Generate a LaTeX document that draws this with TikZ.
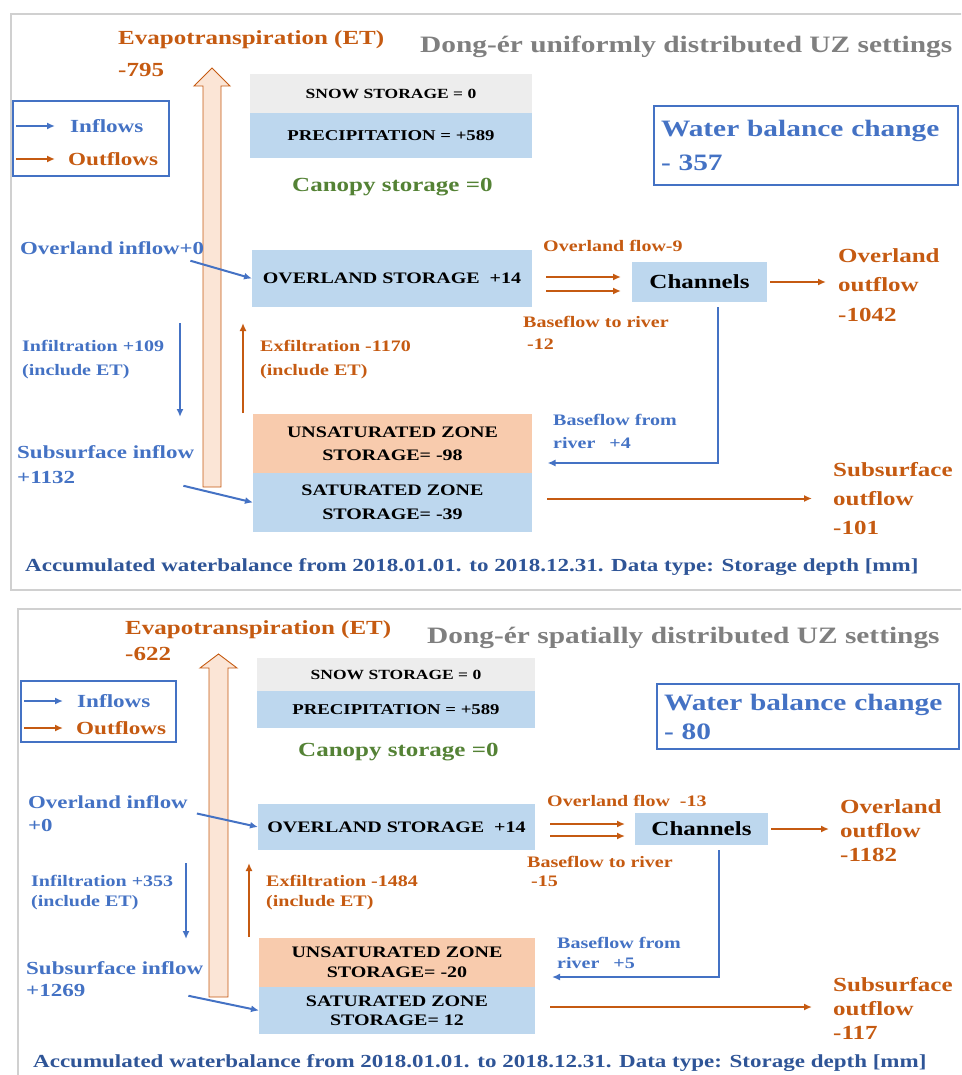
\documentclass[tikz,border=0pt]{standalone}
\usepackage{fontspec}
\setmainfont{Liberation Serif}[FakeStretch=1.25]
\usetikzlibrary{arrows.meta,positioning}

\definecolor{inblue}{HTML}{4472C4}
\definecolor{outorange}{HTML}{C55A11}
\definecolor{footblue}{HTML}{2F5597}
\definecolor{canopygreen}{HTML}{548235}
\definecolor{titlegray}{HTML}{7F7F7F}
\definecolor{boxblue}{HTML}{BDD7EE}
\definecolor{uzpeach}{HTML}{F8CBAD}
\definecolor{snowgray}{HTML}{EDEDED}
\definecolor{etfill}{HTML}{FBE5D6}
\definecolor{framegray}{HTML}{D0D0D0}

\newcommand\wbf[2]{\bfseries\fontsize{#1}{#2}\selectfont}

\tikzset{
  lbl/.style 2 args={anchor=west,inner sep=0pt,align=left,font=\wbf{#1}{#2}},
  zone/.style={inner sep=0pt,outer sep=0pt,align=center},
  legbox/.style={draw=inblue,line width=1.8pt,inner sep=0pt},
  wbbox/.style={draw=inblue,line width=1.8pt,inner xsep=7pt,align=left,text=inblue},
  frame/.style={draw=framegray,line width=2.5pt},
  etarrow/.style={fill=etfill,draw=outorange,line width=0.9pt,line join=miter},
  inarr/.style={draw=inblue,line width=2pt,-{Latex[length=8pt,width=7pt]}},
  outarr/.style={draw=outorange,line width=2pt,-{Latex[length=8pt,width=7pt]}}
}

\begin{document}
\begin{tikzpicture}[x=1pt,y=-1pt]
  \useasboundingbox (0,0) rectangle (961,1075);
  \clip (0,0) rectangle (961,1075);

  % ---------- uniformly distributed UZ ----------
  \draw[frame] (11,14) rectangle (975,590);
  \draw[etarrow] (203,487) -- (203,86) -- (194,86) -- (212,68) -- (230,86) -- (221,86) -- (221,487) -- cycle;

  \node[lbl={20}{32}, text=outorange] (et1) at (118,54) {Evapotranspiration (ET)\\-795};
  \node[lbl={23.5}{28}, text=titlegray] (ttl1) at (420,47) {Dong-ér uniformly distributed UZ settings};

  \node[legbox, minimum width=156pt, minimum height=75pt] (leg1) at (91,138.5) {};
  \node[lbl={18.5}{22}, text=inblue] (lin1) at (70,126) {Inflows};
  \node[lbl={18.5}{22}, text=outorange] (lout1) at (68,159) {Outflows};

  \node[zone, fill=snowgray, minimum width=282pt, minimum height=39pt, font=\wbf{14}{20}] (snow1) at (391,93.5) {SNOW STORAGE = 0};
  \node[zone, fill=boxblue, minimum width=282pt, minimum height=45pt, font=\wbf{15}{20}, below=0pt of snow1] (prec1) {PRECIPITATION = +589};
  \node[lbl={20}{24}, text=canopygreen] (can1) at (292,187) {Canopy storage =0};
  \node[wbbox, text width=290pt, minimum height=79pt, font=\wbf{23.5}{34}] (wb1) at (806,145.5) {Water balance change\\- 357};

  \node[lbl={18.3}{22}, text=inblue] (ovin1) at (20,248) {Overland inflow+0};
  \node[zone, fill=boxblue, minimum width=280pt, minimum height=57pt, font=\wbf{16}{20}] (ovl1) at (392,278.5) {OVERLAND STORAGE\ \ +14};
  \node[lbl={16}{20}, text=outorange] (ovf1) at (543,246) {Overland flow-9};
  \node[zone, fill=boxblue, minimum width=135pt, minimum height=40pt, font=\wbf{20}{24}] (chan1) at (699.5,282) {Channels};
  \node[lbl={20}{29.5}, text=outorange] (oout1) at (838,285) {Overland\\outflow\\-1042};
  \node[lbl={16}{22}, text=outorange] (btr1) at (523,333) {Baseflow to river\\\hspace{4pt}-12};
  \node[lbl={16}{23}, text=inblue] (bfr1) at (553,431.5) {Baseflow from\\river\hspace{14pt}+4};

  \node[zone, fill=uzpeach, minimum width=279pt, minimum height=59pt, font=\wbf{16}{23}] (uz1) at (392.5,443.5) {UNSATURATED ZONE\\STORAGE= -98};
  \node[zone, fill=boxblue, minimum width=279pt, minimum height=59pt, font=\wbf{16}{24}, below=0pt of uz1] (sz1) {SATURATED ZONE\\STORAGE= -39};
  \node[lbl={20}{29}, text=outorange] (sout1) at (833,499) {Subsurface\\outflow\\-101};

  \node[lbl={16}{24}, text=inblue] (inf1) at (22,360) {Infiltration +109\\(include ET)};
  \node[lbl={16}{24}, text=outorange] (exf1) at (260,360) {Exfiltration -1170\\(include ET)};
  \node[lbl={18.4}{25}, text=inblue] (sin1) at (17,464.5) {Subsurface inflow\\+1132};
  \node[lbl={18.4}{22}, text=footblue] (ft1) at (25,567) {Accumulated waterbalance from 2018.01.01. to 2018.12.31. Data type: Storage depth [mm]};

  \coordinate (ia1) at (180,323);
  \coordinate (ib1) at (180,417);
  \coordinate (ea1) at (243,413);
  \coordinate (eb1) at (243,323);

  \draw[inarr] ([xshift=4pt]leg1.west |- lin1.west) -- ([xshift=-15pt]lin1.west);
  \draw[outarr] ([xshift=4pt]leg1.west |- lout1.west) -- ([xshift=-13pt]lout1.west);
  \draw[inarr] (ia1) -- (ib1);
  \draw[outarr] (ea1) -- (eb1);
  \draw[inarr] ([shift={(-14,6)}]ovin1.south east) -- (ovl1.west);
  \draw[outarr] ([shift={(14,-1.5)}]ovl1.east) -- ([shift={(-11,-5)}]chan1.west);
  \draw[outarr] ([shift={(14,12.5)}]ovl1.east) -- ([shift={(-11,9)}]chan1.west);
  \draw[outarr] ([xshift=3pt]chan1.east) -- ([xshift=-12pt]chan1.east -| oout1.west);
  \draw[inarr] ([shift={(18.5,5)}]chan1.south) |- ([shift={(15.5,19.5)}]uz1.east);
  \draw[outarr] ([shift={(15,-4)}]sz1.east) -- ([shift={(-21,-4)}]sz1.east -| sout1.west);
  \draw[inarr] ([shift={(-11,2)}]sin1.south east) -- (sz1.west);

  % ---------- spatially distributed UZ ----------
  \draw[frame] (18,609) rectangle (975,1090);
  \draw[etarrow] (209,997) -- (209,668) -- (200,668) -- (218.5,654) -- (237,668) -- (228,668) -- (228,997) -- cycle;

  \node[lbl={20}{26}, text=outorange] (et2) at (125,641) {Evapotranspiration (ET)\\-622};
  \node[lbl={23.5}{28}, text=titlegray] (ttl2) at (427,638) {Dong-ér spatially distributed UZ settings};

  \node[legbox, minimum width=155pt, minimum height=61pt] (leg2) at (98.5,711.5) {};
  \node[lbl={18.5}{22}, text=inblue] (lin2) at (77,701) {Inflows};
  \node[lbl={18.5}{22}, text=outorange] (lout2) at (76,728) {Outflows};

  \node[zone, fill=snowgray, minimum width=278pt, minimum height=33pt, font=\wbf{14}{20}] (snow2) at (396,674.5) {SNOW STORAGE = 0};
  \node[zone, fill=boxblue, minimum width=278pt, minimum height=37pt, font=\wbf{15}{20}, below=0pt of snow2] (prec2) {PRECIPITATION = +589};
  \node[lbl={20}{24}, text=canopygreen] (can2) at (298,752) {Canopy storage =0};
  \node[wbbox, text width=288pt, minimum height=65pt, font=\wbf{23.5}{29}] (wb2) at (808,716.5) {Water balance change\\- 80};

  \node[lbl={18.3}{23}, text=inblue] (ovin2) at (28,813.5) {Overland inflow\\+0};
  \node[zone, fill=boxblue, minimum width=277pt, minimum height=46pt, font=\wbf{16}{20}] (ovl2) at (396.5,827) {OVERLAND STORAGE\ \ +14};
  \node[lbl={16}{20}, text=outorange] (ovf2) at (547,801) {Overland flow\ \ -13};
  \node[zone, fill=boxblue, minimum width=133pt, minimum height=32pt, font=\wbf{20}{24}] (chan2) at (701.5,829) {Channels};
  \node[lbl={20}{24}, text=outorange] (oout2) at (840,831) {Overland\\outflow\\-1182};
  \node[lbl={16}{19.5}, text=outorange] (btr2) at (527,871.5) {Baseflow to river\\\hspace{4pt}-15};
  \node[lbl={16}{20}, text=inblue] (bfr2) at (557,953) {Baseflow from\\river\hspace{14pt}+5};

  \node[zone, fill=uzpeach, minimum width=276pt, minimum height=49pt, font=\wbf{16}{20}] (uz2) at (397,962.5) {UNSATURATED ZONE\\STORAGE= -20};
  \node[zone, fill=boxblue, minimum width=276pt, minimum height=47pt, font=\wbf{16}{19}, below=0pt of uz2] (sz2) {SATURATED ZONE\\STORAGE= 12};
  \node[lbl={20}{24}, text=outorange] (sout2) at (833,1008) {Subsurface\\outflow\\-117};

  \node[lbl={16}{20}, text=inblue] (inf2) at (31,893) {Infiltration +353\\(include ET)};
  \node[lbl={16}{20}, text=outorange] (exf2) at (266,893) {Exfiltration -1484\\(include ET)};
  \node[lbl={18.4}{22}, text=inblue] (sin2) at (26,979) {Subsurface inflow\\+1269};
  \node[lbl={18.4}{22}, text=footblue] (ft2) at (33,1063) {Accumulated waterbalance from 2018.01.01. to 2018.12.31. Data type: Storage depth [mm]};

  \coordinate (ia2) at (186,863);
  \coordinate (ib2) at (186,939);
  \coordinate (ea2) at (249,937);
  \coordinate (eb2) at (249,863);

  \draw[inarr] ([xshift=4pt]leg2.west |- lin2.west) -- ([xshift=-14pt]lin2.west);
  \draw[outarr] ([xshift=4pt]leg2.west |- lout2.west) -- ([xshift=-13pt]lout2.west);
  \draw[inarr] (ia2) -- (ib2);
  \draw[outarr] (ea2) -- (eb2);
  \draw[inarr] ([xshift=9pt]ovin2.east) -- (ovl2.west);
  \draw[outarr] ([shift={(15,-3)}]ovl2.east) -- ([shift={(-10,-5)}]chan2.west);
  \draw[outarr] ([shift={(15,9)}]ovl2.east) -- ([shift={(-10,7)}]chan2.west);
  \draw[outarr] ([xshift=3pt]chan2.east) -- ([xshift=-11pt]chan2.east -| oout2.west);
  \draw[inarr] ([shift={(17.5,5)}]chan2.south) |- ([shift={(17,14.5)}]uz2.east);
  \draw[outarr] ([shift={(15,-3.5)}]sz2.east) -- ([shift={(-21,-3.5)}]sz2.east -| sout2.west);
  \draw[inarr] ([shift={(-15,-1)}]sin2.south east) -- (sz2.west);
\end{tikzpicture}
\end{document}
